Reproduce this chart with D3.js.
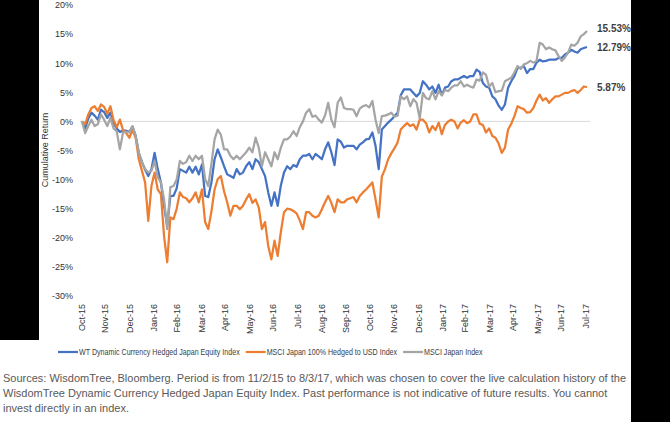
<!DOCTYPE html>
<html>
<head>
<meta charset="utf-8">
<script src="https://cdn.jsdelivr.net/npm/d3@7/dist/d3.min.js"></script>
<style>
  body { margin: 0; background: #fff; }
  svg { display: block; font-family: "Liberation Sans", Arial, sans-serif; }
</style>
</head>
<body>
<div id="chart"></div>
<script>
// cumulative returns (%), one reading every 4 calendar days from 11/2/15 to 8/3/17
var wtDynamic = [
  0, -1.2, 0.5, 1.5, 1.0, 0.3, 2.0, 1.6, 0.6, 1.5,
  -0.3, -1.2, -1.8, -1.6, -1.6, -1.8, -0.9, -2.5, -5.4, -7.0,
  -8.3, -9.4, -8.2, -5.4, -8.2, -10.5, -14.5, -18.0, -12.8, -12.8,
  -11.5, -8.2, -8.5, -8.8, -7.8, -8.8, -7.8, -9.1, -7.4, -12.8,
  -13.0, -10.5, -6.5, -4.8, -6.2, -7.7, -9.1, -9.4, -9.7, -8.2,
  -9.1, -8.8, -7.7, -7.0, -8.2, -6.5, -7.0, -8.2, -9.4, -12.2,
  -14.5, -12.2, -14.5, -11.0, -8.8, -7.7, -8.2, -7.5, -7.8, -6.5,
  -5.9, -5.9, -5.6, -6.5, -5.6, -6.0, -6.5, -4.8, -3.6, -5.3,
  -7.5, -3.1, -3.5, -4.5, -4.2, -4.2, -4.2, -4.8, -4.0, -3.6,
  -3.1, -3.0, -1.9, -4.2, -8.2, -1.4, -0.8, -0.2, 0.3, 0.9,
  1.5, 4.5, 5.5, 5.5, 5.5, 4.9, 4.3, 4.9, 6.9, 6.3,
  5.5, 6.0, 4.9, 6.3, 4.5, 5.8, 6.0, 6.9, 7.2, 7.2,
  7.5, 7.8, 7.5, 7.8, 7.8, 8.9, 8.5, 6.6, 6.0, 5.8,
  4.3, 3.8, 2.7, 2.0, 2.9, 5.8, 6.9, 7.8, 9.2, 9.2,
  9.5, 8.3, 9.0, 9.0, 10.1, 10.6, 10.3, 10.4, 10.6, 10.6,
  10.6, 10.9, 10.9, 11.5, 11.8, 12.3, 12.0, 11.8, 12.4, 12.6,
  12.79
];
var msciHedged = [
  0, -0.5, 1.2, 2.3, 2.6, 1.8, 2.9, 2.5, 1.3, 2.6,
  0.2, -1.0, 0.3, -1.5, -2.0, -2.8, -1.5, -2.8, -6.5, -8.5,
  -10.5, -17.1, -11.1, -8.8, -11.7, -12.5, -19.7, -24.2, -16.5, -16.8,
  -15.0, -12.2, -13.0, -13.2, -13.9, -13.2, -12.2, -13.9, -11.7, -17.3,
  -18.5, -15.5, -11.7, -9.9, -9.4, -12.0, -13.9, -16.2, -14.5, -14.5,
  -15.1, -14.5, -13.4, -12.5, -14.0, -13.4, -14.8, -18.5, -17.3, -21.4,
  -23.7, -20.5, -23.1, -19.0, -15.6, -15.0, -15.1, -15.4, -15.8, -17.0,
  -18.5, -15.6, -15.6, -16.2, -16.5, -16.2, -15.1, -13.9, -12.8, -14.0,
  -15.6, -13.4, -13.9, -13.9, -13.4, -13.2, -13.0, -13.9, -12.8, -12.2,
  -11.7, -11.1, -10.5, -13.4, -16.5, -9.5, -8.2, -6.5, -5.5, -4.6,
  -3.6, -1.4, -0.8, -0.3, -0.8, -0.5, -1.4, 0.3, 0.3, -0.3,
  -1.9, -0.8, -1.5, -0.2, -2.2, -0.6, 0.0, 0.3, 0.0, -1.2,
  -0.2, 0.2, -0.3, 0.0, 1.2, 1.2, -0.4, -0.6, -1.9, -1.2,
  -2.5, -2.8, -3.8, -5.4, -4.5, -1.4, -0.4, 0.9, 2.6, 2.3,
  2.1, 1.5, 1.6, 2.3, 3.6, 4.6, 3.6, 4.0, 3.2, 3.8,
  4.3, 4.3, 4.6, 4.9, 4.9, 5.2, 5.4, 4.9, 5.4, 6.0,
  5.87
];
var msciJapan = [
  0, -2.0, -0.8, 0.3, -0.8, -0.5, 1.2, 0.3, -0.8, 0.6,
  -1.2, -1.7, -4.8, -1.9, -1.8, -1.9, -0.8, -2.5, -5.4, -7.0,
  -8.2, -8.8, -8.5, -6.8, -9.6, -10.5, -13.4, -18.5, -11.3, -11.1,
  -10.0, -6.8, -7.3, -7.0, -5.9, -6.8, -5.9, -6.5, -5.9, -9.9,
  -11.1, -7.3, -3.1, -1.4, -2.3, -4.8, -4.8, -5.9, -6.5, -5.9,
  -6.5, -5.9, -5.3, -4.5, -5.3, -2.8, -4.5, -7.7, -5.3, -6.5,
  -7.7, -5.3, -6.5, -4.5, -3.1, -3.1, -2.6, -1.7, -2.5, -1.0,
  0.0, 1.5, 2.1, 0.8, 1.0, 0.3, -0.2, 1.0, 3.2, 0.3,
  -1.0, 3.2, 4.1, 2.3, 2.1, 2.1, 2.0, 0.9, 2.2, 2.6,
  2.8, 2.4, 3.5, 0.3, -2.0, 0.9, 1.0, 1.2, 1.5, 0.8,
  1.0, 4.3, 3.8, 4.3, 2.6, 3.8, 3.2, 0.5, 4.9, 4.0,
  3.8, 5.2, 3.8, 5.2, 4.5, 5.4, 5.2, 5.8, 6.2, 6.2,
  6.9, 6.0, 6.3, 6.0, 5.8, 7.2, 7.0, 8.4, 8.0, 6.0,
  6.6, 5.0, 5.2, 5.3, 6.9, 7.2, 7.5, 8.4, 9.5, 9.0,
  9.8, 10.0, 10.4, 10.1, 10.4, 13.5, 13.2, 12.4, 12.7, 12.4,
  12.2, 11.2, 10.4, 11.0, 11.8, 13.2, 13.0, 13.5, 14.6, 15.0,
  15.53
];
var seriesNames = ["WT Dynamic Currency Hedged Japan Equity Index",
                   "MSCI Japan 100% Hedged to USD Index",
                   "MSCI Japan Index"];
var colors = ["#4472C4", "#ED7D31", "#A5A5A5"];
var yTicks = [20, 15, 10, 5, 0, -5, -10, -15, -20, -25, -30];
var xLabels = ["Oct-15", "Nov-15", "Dec-15", "Jan-16", "Feb-16", "Mar-16", "Apr-16",
               "May-16", "Jun-16", "Jul-16", "Aug-16", "Sep-16", "Oct-16", "Nov-16",
               "Dec-16", "Jan-17", "Feb-17", "Mar-17", "Apr-17", "May-17", "Jun-17", "Jul-17"];
var endLabels = ["12.79%", "5.87%", "15.53%"];
var footer = [
  "Sources: WisdomTree, Bloomberg. Period is from 11/2/15 to 8/3/17, which was chosen to cover the live calculation history of the",
  "WisdomTree Dynamic Currency Hedged Japan Equity Index. Past performance is not indicative of future results. You cannot",
  "invest directly in an index."
];

var start = new Date(2015, 10, 2);
var dates = wtDynamic.map(function(d, i) { return d3.timeDay.offset(start, 4 * i); });
var tickDates = d3.timeMonth.range(new Date(2015, 10, 1), new Date(2017, 7, 2));
var series = [wtDynamic, msciHedged, msciJapan];

var width = 670, height = 422;
var svg = d3.select("#chart").append("svg")
            .attr("width", width)
            .attr("height", height);

svg.append("rect").attr("width", width).attr("height", height).attr("fill", "#fff");

var x = d3.scaleTime().domain([dates[0], dates[dates.length - 1]]).range([82, 587]);
var y = d3.scaleLinear().domain([-30, 20]).range([296, 5]);

// zero line
svg.append("line")
   .attr("x1", 80).attr("x2", 590)
   .attr("y1", y(0)).attr("y2", y(0))
   .attr("stroke", "#d9d9d9").attr("stroke-width", 1);

// y axis
var yAxis = svg.append("g")
               .attr("transform", "translate(76,0)")
               .call(d3.axisLeft(y).tickValues(yTicks).tickSize(0).tickPadding(3)
                       .tickFormat(function(d) { return d + "%"; }));
yAxis.select(".domain").remove();
yAxis.selectAll("text").style("font-size", "9px").attr("fill", "#333");

svg.append("text")
   .attr("transform", "translate(48,150) rotate(-90)")
   .attr("text-anchor", "middle")
   .style("font-size", "9px")
   .attr("fill", "#333")
   .text("Cumulative Return");

// x axis
var xAxis = svg.append("g")
               .attr("transform", "translate(0,300)")
               .call(d3.axisBottom(x).tickValues(tickDates).tickSize(0)
                       .tickFormat(function(d, i) { return xLabels[i]; }));
xAxis.select(".domain").remove();
xAxis.selectAll("text")
     .style("font-size", "9px")
     .attr("fill", "#333")
     .attr("text-anchor", "end")
     .attr("transform", "rotate(-90)")
     .attr("x", -4)
     .attr("y", 0)
     .attr("dy", "0.32em");

// lines
var line = d3.line()
             .x(function(d, i) { return x(dates[i]); })
             .y(function(d) { return y(d); });

series.forEach(function(s, k) {
  svg.append("path")
     .datum(s)
     .attr("fill", "none")
     .attr("stroke", colors[k])
     .attr("stroke-width", 2.25)
     .attr("stroke-linejoin", "round")
     .attr("d", line);
});

// end labels
series.forEach(function(s, k) {
  svg.append("text")
     .attr("x", 597)
     .attr("y", y(s[s.length - 1]) + (k == 2 ? 1 : 4))
     .style("font-size", "10px")
     .style("font-weight", "bold")
     .attr("fill", "#404040")
     .text(endLabels[k]);
});

// legend (text squeezed sideways like the narrow font of the original)
var squeeze = 0.79;
var lx = 58;
seriesNames.forEach(function(name, k) {
  svg.append("line")
     .attr("x1", lx).attr("x2", lx + 20)
     .attr("y1", 352).attr("y2", 352)
     .attr("stroke", colors[k]).attr("stroke-width", 2.25);
  var t = svg.append("text")
             .attr("transform", "translate(" + (lx + 21) + ",355) scale(" + squeeze + ",1)")
             .style("font-size", "9px")
             .attr("fill", "#404040")
             .text(name);
  lx += 21 + t.node().getComputedTextLength() * squeeze + 6;
});

// footer
svg.selectAll(".foot")
   .data(footer)
   .enter()
   .append("text")
   .attr("class", "foot")
   .attr("x", 3)
   .attr("y", function(d, i) { return 382 + i * 15; })
   .style("font-size", "11px")
   .attr("fill", "#595959")
   .text(function(d) { return d; });

// black side bands from the original screenshot
svg.append("rect").attr("x", 0).attr("y", 0).attr("width", 39).attr("height", 340).attr("fill", "#000");
svg.append("rect").attr("x", 631).attr("y", 0).attr("width", 39).attr("height", height).attr("fill", "#000");
</script>
</body>
</html>
